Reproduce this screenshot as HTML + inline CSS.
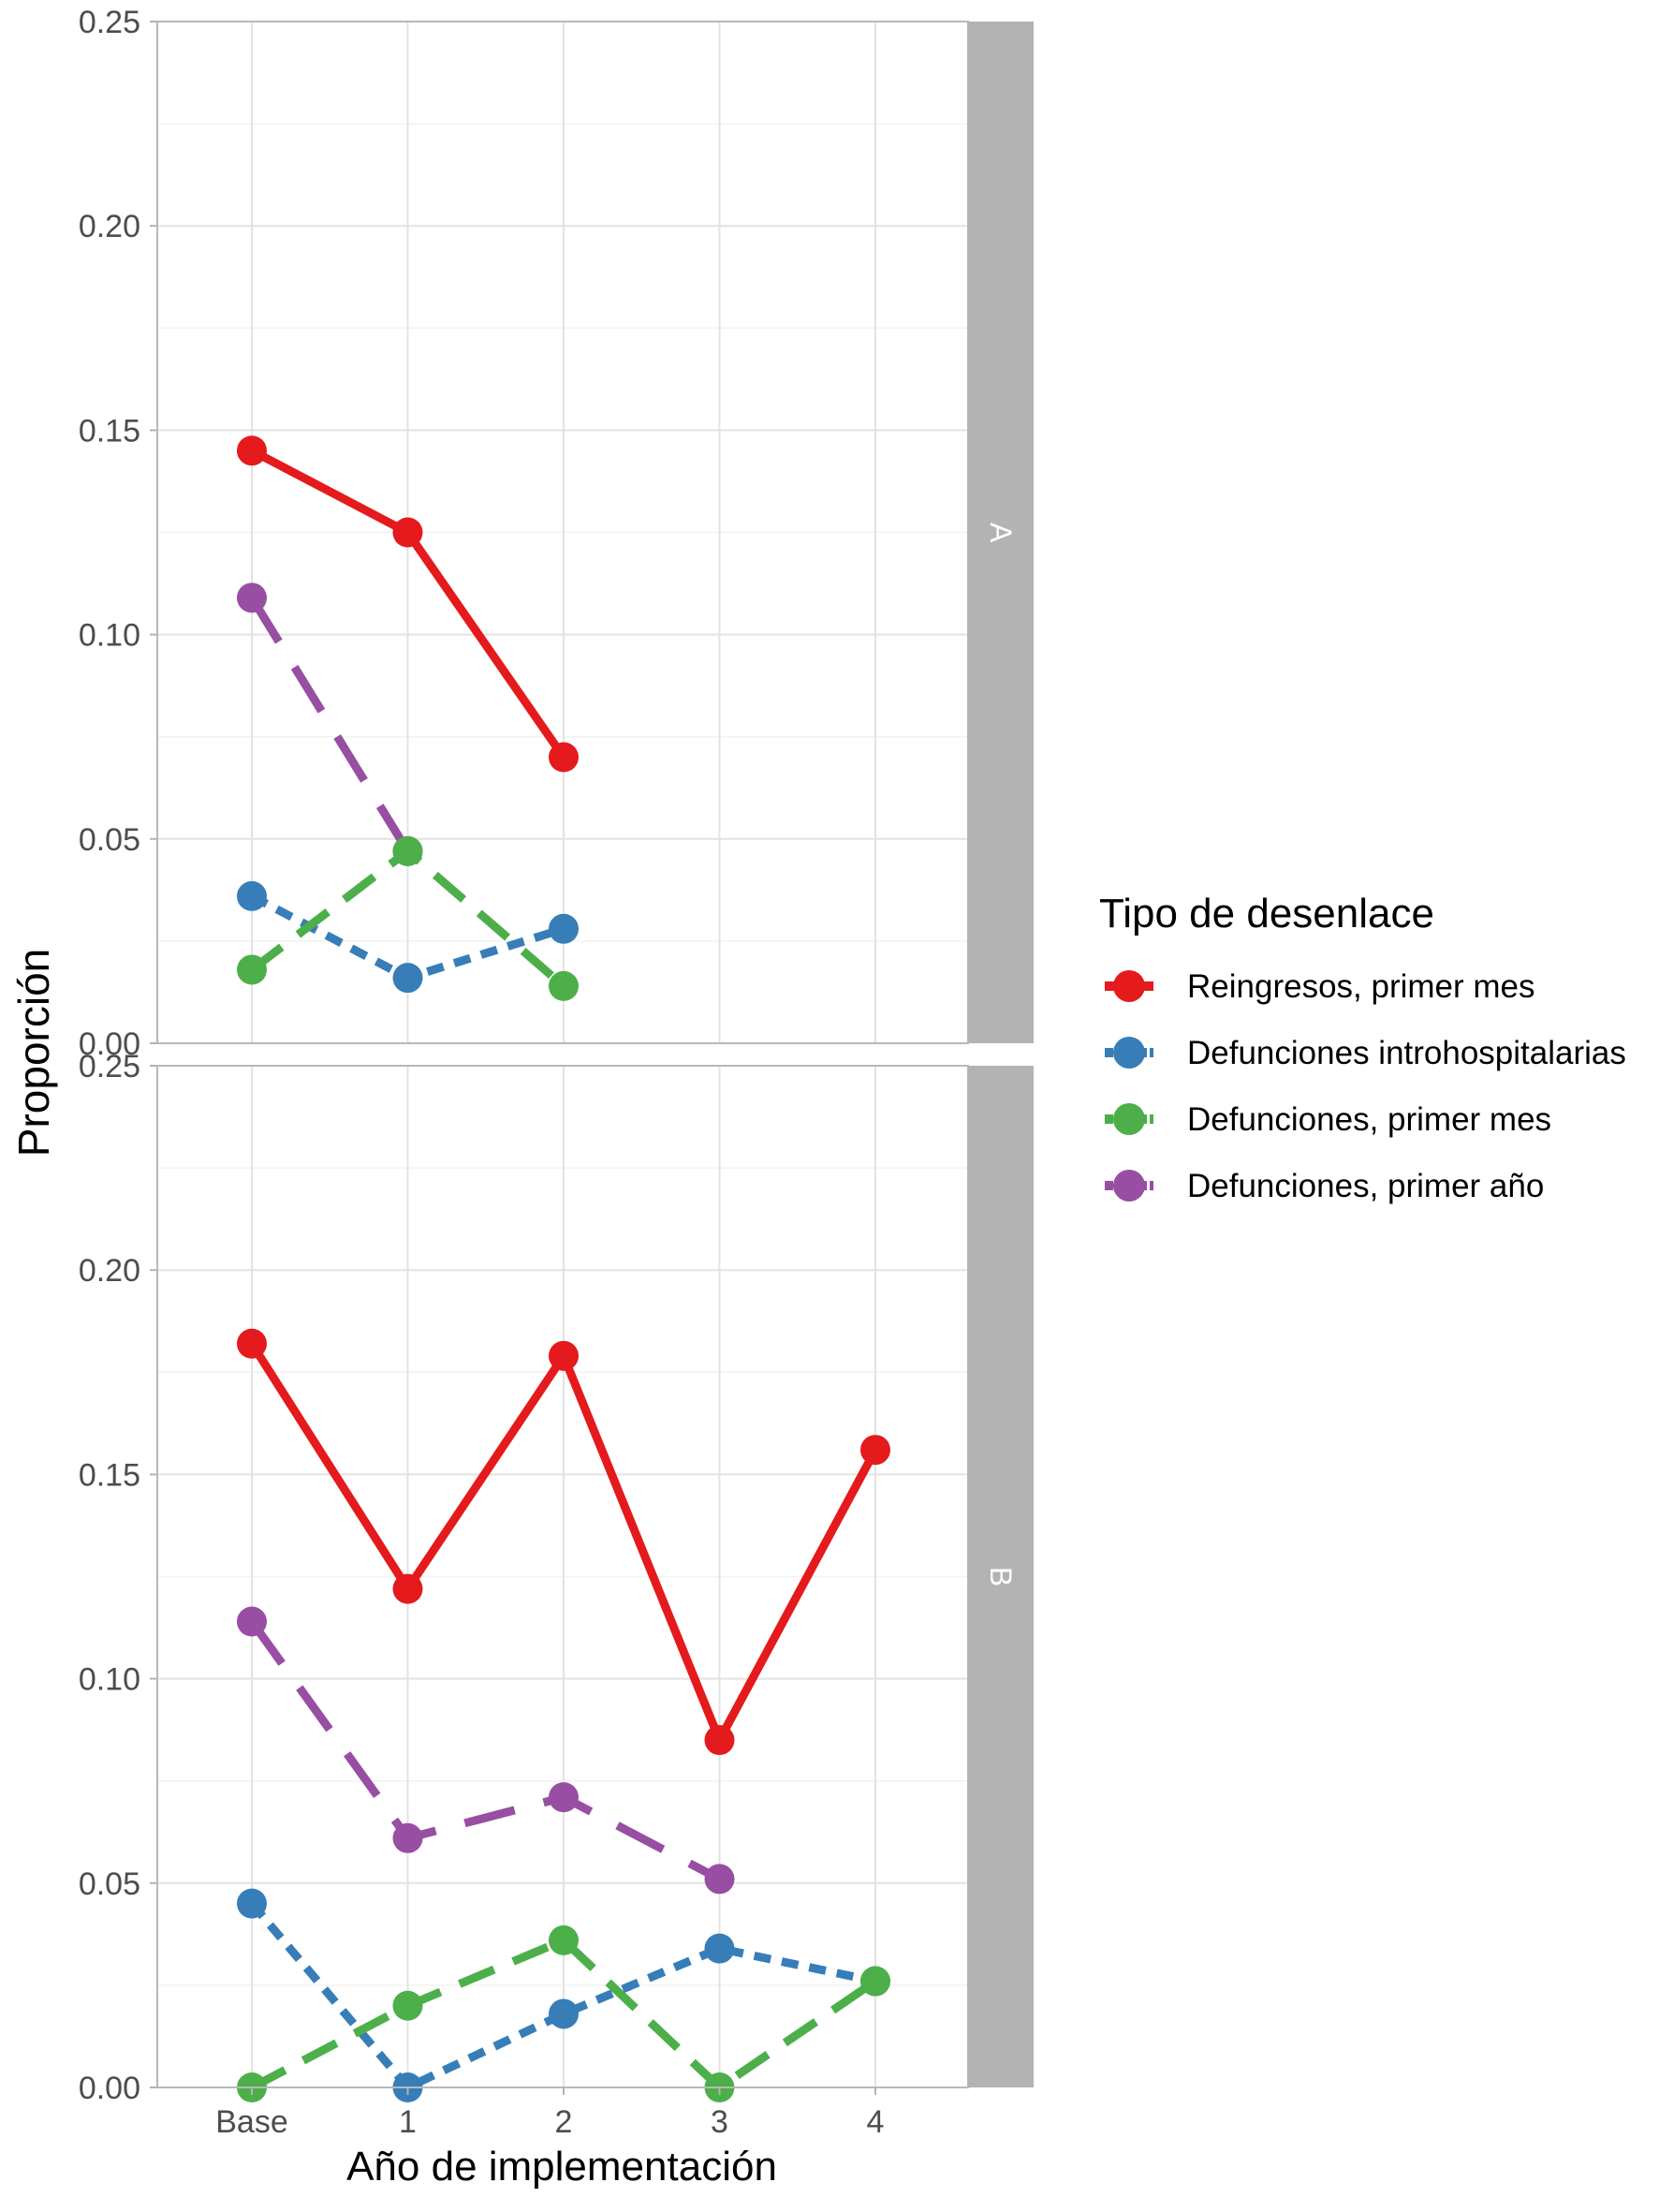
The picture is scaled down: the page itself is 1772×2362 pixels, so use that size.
<!DOCTYPE html>
<html><head><meta charset="utf-8">
<style>
html,body{margin:0;padding:0;background:#fff;}
svg{display:block;font-family:"Liberation Sans",Arial,sans-serif;}
</style></head>
<body>
<svg id="chart" width="1772" height="2362" viewBox="0 0 1772 2362" xmlns="http://www.w3.org/2000/svg">
<g id="grid"></g>
<g id="marks"></g>
<g id="axes"></g>
<text x="0" y="0" transform="translate(52,1124) rotate(-90)" text-anchor="middle" font-size="46" fill="#000">Proporción</text>
<text x="600" y="2328" text-anchor="middle" font-size="44" fill="#000">Año de implementación</text>
<g id="legend">
<text x="1174" y="990" font-size="44" fill="#000">Tipo de desenlace</text>
</g>
</svg>
<script>
const categories = ["Base","1","2","3","4"];
const yTicks = [0, 0.05, 0.10, 0.15, 0.20, 0.25];
const yTickLabels = ["0.00","0.05","0.10","0.15","0.20","0.25"];
const panelNames = ["A","B"];
const seriesNames = ["Reingresos, primer mes","Defunciones introhospitalarias","Defunciones, primer mes","Defunciones, primer año"];
const seriesColors = ["#e41a1c","#377eb8","#4daf4a","#984ea3"];
const seriesDash = ["", "18 12", "40 22", "55 32"];
// Panel A values
const redA = [0.145, 0.125, 0.070, null, null];
const blueA = [0.036, 0.016, 0.028, null, null];
const greenA = [0.018, 0.047, 0.014, null, null];
const purpleA = [0.109, 0.047, null, null, null];
// Panel B values
const redB = [0.182, 0.122, 0.179, 0.085, 0.156];
const blueB = [0.045, 0.000, 0.018, 0.034, 0.026];
const greenB = [0.000, 0.020, 0.036, 0.000, 0.026];
const purpleB = [0.114, 0.061, 0.071, 0.051, null];

const NS = "http://www.w3.org/2000/svg";
const X0 = 168, X1 = 1034, SX1 = 1104;
const panels = [{top:23, bottom:1114}, {top:1138, bottom:2229}];
const yMax = 0.25;
const drawOrder = [3, 0, 1, 2];
function xScale(i){ return 269 + i*166.5; }
function yScale(v, p){ return p.bottom - (v/yMax)*(p.bottom - p.top); }
function mk(tag, attrs, parent){
  const e = document.createElementNS(NS, tag);
  for (const k in attrs) e.setAttribute(k, attrs[k]);
  parent.appendChild(e);
  return e;
}
const grid = document.getElementById('grid');
const marks = document.getElementById('marks');
const axes = document.getElementById('axes');
const panelData = [[redA, blueA, greenA, purpleA],[redB, blueB, greenB, purpleB]];

panels.forEach((p, pi) => {
  for (let k = 0; k < yTicks.length - 1; k++) {
    const v = (yTicks[k] + yTicks[k+1]) / 2;
    const l = mk('line', {x1:X0, x2:X1, y1:yScale(v,p), y2:yScale(v,p), stroke:'#f2f2f2', 'stroke-width':1.5}, grid);
    
    
  }
  yTicks.forEach((v, k) => {
    const y = yScale(v, p);
    const l = mk('line', {x1:X0, x2:X1, y1:y, y2:y, stroke:'#e3e3e3', 'stroke-width':2}, grid);
    
    
    const t = mk('line', {x1:X0-8, x2:X0, y1:y, y2:y, stroke:'#b3b3b3', 'stroke-width':2}, axes);
    
    
    const tx = mk('text', {x:X0-18, y:y+12, 'text-anchor':'end', 'font-size':34, fill:'#4d4d4d'}, axes);
    tx.textContent = yTickLabels[k];
    
    
  });
  categories.forEach((c, i) => {
    const l = mk('line', {x1:xScale(i), x2:xScale(i), y1:p.top, y2:p.bottom, stroke:'#e3e3e3', 'stroke-width':2}, grid);
    
    
  });
  const border = mk('rect', {x:X0, y:p.top, width:X1-X0, height:p.bottom-p.top, fill:'none', stroke:'#b8b8b8', 'stroke-width':2}, axes);
  
  
  const strip = mk('rect', {x:X1, y:p.top, width:SX1-X1, height:p.bottom-p.top, fill:'#b3b3b3'}, axes);
  
  
  const cy = (p.top + p.bottom)/2;
  const st = mk('text', {x:0, y:0, transform:`translate(${(X1+SX1)/2 - 11},${cy}) rotate(90)`, 'text-anchor':'middle', 'font-size':32, fill:'#fff'}, axes);
  st.textContent = panelNames[pi];
  
  

  drawOrder.forEach(si => {
    const vals = panelData[pi][si];
    let pts = [];
    vals.forEach((v, i) => { if (v !== null) pts.push([xScale(i), yScale(v, p)]); });
    const path = mk('polyline', {points: pts.map(q => q.join(',')).join(' '), fill:'none', stroke:seriesColors[si], 'stroke-width':9, 'stroke-dasharray':seriesDash[si], 'stroke-linejoin':'round'}, marks);
    
    
  });
  drawOrder.forEach(si => {
    panelData[pi][si].forEach((v, i) => {
      if (v === null) return;
      const c = mk('circle', {cx:xScale(i), cy:yScale(v,p), r:16, fill:seriesColors[si]}, marks);
      
      
    });
  });
});
categories.forEach((c, i) => {
  const t = mk('line', {x1:xScale(i), x2:xScale(i), y1:panels[1].bottom, y2:panels[1].bottom+8, stroke:'#b3b3b3', 'stroke-width':2}, axes);
  
  
  const tx = mk('text', {x:xScale(i), y:2277, 'text-anchor':'middle', 'font-size':34, fill:'#4d4d4d'}, axes);
  tx.textContent = c;
  
  
});
const legend = document.getElementById('legend');
const legendY = [1053, 1124, 1195, 1266];
seriesNames.forEach((n, si) => {
  const y = legendY[si];
  const kl = mk('line', {x1:1180, x2:1232, y1:y, y2:y, stroke:seriesColors[si], 'stroke-width':10, 'stroke-dasharray':seriesDash[si] ? '9 3' : ''}, legend);
  
  
  const kc = mk('circle', {cx:1206, cy:y, r:17, fill:seriesColors[si]}, legend);
  
  
  const t = mk('text', {x:1268, y:y+12, 'font-size':35, fill:'#000'}, legend);
  t.textContent = n;
  
  
});
</script>
</body></html>
